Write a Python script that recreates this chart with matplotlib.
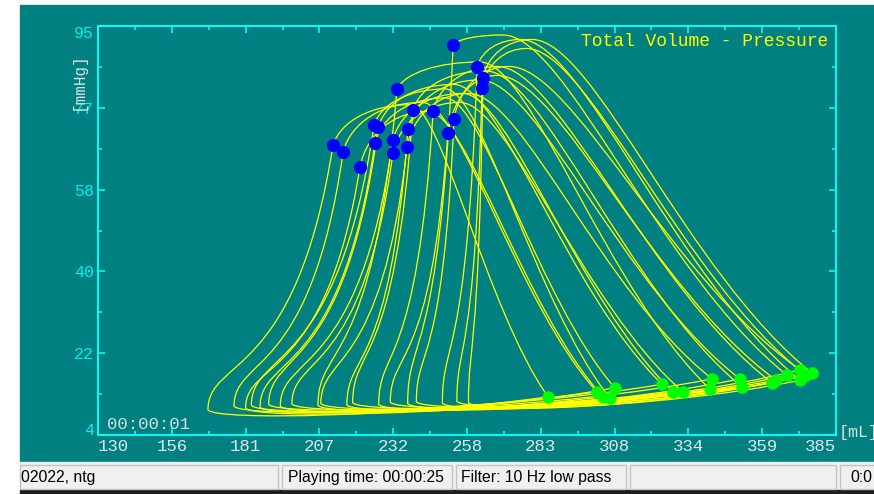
import numpy as np
import matplotlib.pyplot as plt
from matplotlib.path import Path
from matplotlib.patches import PathPatch, Rectangle

# end-systolic points (blue), one per beat
es_vol = [211.2, 214.7, 220.5, 225.4, 225.7, 226.8, 231.9, 231.9, 233.3, 236.8,
          237.1, 238.8, 245.8, 250.9, 252.7, 253.0, 261.0, 262.7, 263.0]
es_press = [68.5, 67.0, 63.6, 73.0, 69.0, 72.5, 69.6, 66.7, 81.0, 68.1,
            72.1, 76.3, 76.1, 71.2, 90.8, 74.3, 85.9, 81.2, 83.5]
# end-diastolic points (green)
ed_vol = [285.5, 302.4, 304.5, 306.9, 308.6, 324.9, 328.7, 332.1, 341.5, 342.2,
          351.8, 352.5, 362.9, 364.3, 368.1, 372.6, 372.6, 374.6, 376.7]
ed_press = [12.5, 13.6, 12.5, 12.2, 14.5, 15.3, 13.6, 13.6, 14.2, 16.5,
            16.5, 14.7, 15.6, 16.2, 17.3, 18.5, 16.2, 17.3, 17.8]
# top of each loop
peak_vol = [238, 242, 244, 250, 250, 253, 256, 255, 262, 258,
            262, 264, 268, 268, 270, 272, 276, 278, 280]
peak_press = [77.5, 78, 76, 81, 79, 82, 80, 78, 87, 80,
              83, 85, 86, 84, 93, 86, 92, 90, 92]
# left "foot" of each loop
foot_vol = [168, 177, 181, 183, 186, 189, 193, 197, 206, 207,
            216, 218, 227, 231, 237, 240, 249, 254, 258]
foot_press = [9.6, 10.4, 10.0, 10.6, 10.2, 10.8, 10.4, 10.9, 10.6, 11.0,
              10.7, 11.2, 10.8, 11.3, 11.0, 11.4, 11.1, 11.5, 11.2]

x_labels = ['130', '156', '181', '207', '232', '258', '283', '308', '334', '359', '385']
y_ticks = [4, 22.2, 40.4, 58.6, 76.8, 95]
y_labels = ['4', '22', '40', '58', '77', '95']

teal = '#008080'
cyan = '#00ffff'
W, H = 874, 494


def box(x0, y0, w, h):
    return [x0 / W, 1 - (y0 + h) / H, w / W, h / H]


def loop_path(vs, ps, ve, pe, vp, pp, vt, pt):
    dv, dp, w = ve - vp, pp - pe, ve - vt
    verts = [(ve, pe),
             (ve - 0.45 * dv, pe + 0.3 * dp), (vp + 0.22 * dv, pp), (vp, pp),
             (vp - 0.5 * (vp - vs), pp), (vs + 0.1 * (vp - vs), ps + 0.6 * (pp - ps)), (vs, ps),
             (vs - 0.3 * (vs - vt), ps - 0.9 * (ps - pt)), (vt, pt + 0.2 * (ps - pt)), (vt, pt),
             (vt + 0.02 * w, pt - 2.5), (ve - 0.4 * w, pt - 1.5), (ve, pe)]
    codes = [Path.MOVETO] + [Path.CURVE4] * 12
    return Path(verts, codes)


fig = plt.figure(figsize=(W / 100, H / 100), dpi=100)
fig.patch.set_facecolor('white')
fig.add_artist(Rectangle((20 / W, 1 - 462 / H), 854 / W, 457 / H,
                         transform=fig.transFigure, color=teal, zorder=0))

ax = fig.add_axes(box(98, 26, 738, 409))
ax.set_facecolor(teal)
ax.set_xlim(130, 385)
ax.set_ylim(4, 95)

for i in range(len(es_vol)):
    p = loop_path(es_vol[i], es_press[i], ed_vol[i], ed_press[i],
                  peak_vol[i], peak_press[i], foot_vol[i], foot_press[i])
    ax.add_patch(PathPatch(p, facecolor='none', edgecolor='#ffff00', lw=0.9, zorder=2))

ax.plot(es_vol, es_press, 'o', color='#0000ff', ms=9.5, mec='none', zorder=3)
ax.plot(ed_vol, ed_press, 'o', color='#00ff00', ms=9, mec='none', zorder=3)

for s in ax.spines.values():
    s.set_color(cyan)
    s.set_linewidth(1.4)

ax.set_xticks(np.linspace(130, 385, 11), x_labels)
ax.set_xticks(np.linspace(130, 385, 21), minor=True)
ax.set_yticks(y_ticks, y_labels)
ax.set_yticks(np.linspace(4, 95, 11), minor=True)
ax.tick_params(which='both', direction='in', top=True, right=True, color=cyan, width=1.2)
ax.tick_params(which='major', length=5, pad=3)
ax.tick_params(which='minor', length=3)
ax.tick_params(axis='x', labelcolor='#dfe8e8', labelsize=12.5)
ax.tick_params(axis='y', labelcolor='#00f0f0', labelsize=12)
for t in ax.get_xticklabels() + ax.get_yticklabels():
    t.set_fontfamily('Liberation Mono')
xl = ax.get_xticklabels()
xl[0].set_horizontalalignment('left')
xl[-1].set_horizontalalignment('right')
yl = ax.get_yticklabels()
yl[0].set_verticalalignment('baseline')
yl[-1].set_verticalalignment('top')

mono = 'Liberation Mono'
fig.text(828 / W, 1 - 42 / H, 'Total Volume - Pressure', color='#ffff00', fontsize=13,
         family=mono, ha='right', va='center')
fig.text(107 / W, 1 - 424 / H, '00:00:01', color='#d0e0e0', fontsize=12.5,
         family=mono, ha='left', va='center')
fig.text(78 / W, 1 - 81 / H, '[mmHg]', color='#d8e0e0', fontsize=11.5,
         family=mono, rotation=90, ha='center', va='center')
fig.text(839 / W, 1 - 432 / H, '[mL]', color='#d8e0e0', fontsize=12,
         family=mono, ha='left', va='center')

# status bar
fig.add_artist(Rectangle((20 / W, 1 - 490 / H), 854 / W, 28 / H,
                         transform=fig.transFigure, color='#f0f0f0', zorder=0))
fig.add_artist(Rectangle((20 / W, 0), 854 / W, 4 / H,
                         transform=fig.transFigure, color='#1e1e1e', zorder=0))
for x0, x1 in [(20, 278), (282, 452), (456, 626), (630, 836), (840, 880)]:
    fig.add_artist(Rectangle((x0 / W, 1 - 489 / H), (x1 - x0) / W, 24 / H,
                             transform=fig.transFigure, facecolor='none',
                             edgecolor='#c4c4c4', lw=1, zorder=1))
status = [(21, '02022, ntg'), (288, 'Playing time: 00:00:25'),
          (461, 'Filter: 10 Hz low pass'), (850, '0:0')]
for x0, s in status:
    fig.text(x0 / W, 1 - 477 / H, s, color='black', fontsize=11.3,
             family='Liberation Sans', ha='left', va='center')

fig.savefig('out.png', dpi=100, facecolor='white')
